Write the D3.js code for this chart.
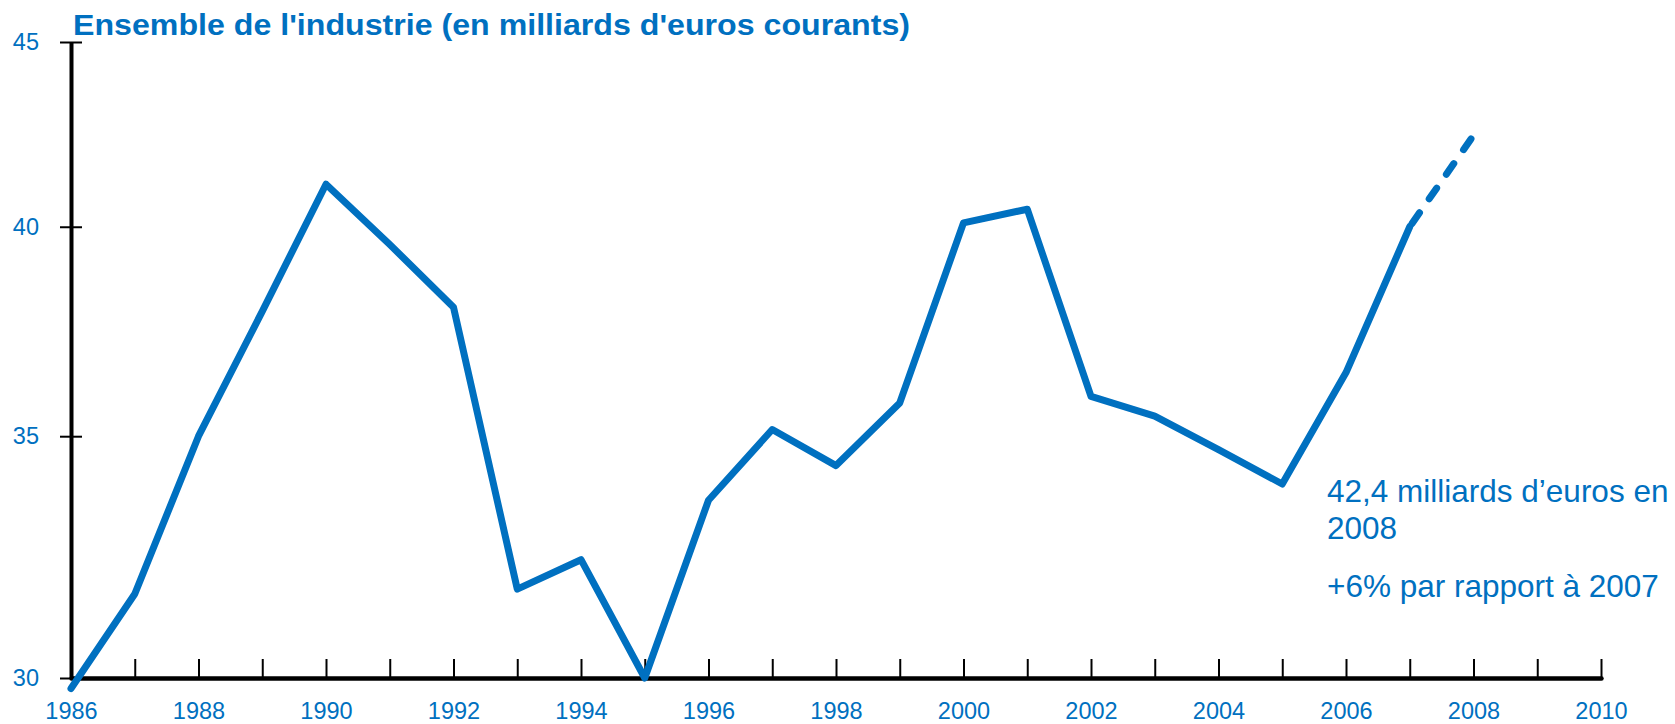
<!DOCTYPE html>
<html>
<head>
<meta charset="utf-8">
<script src="https://cdn.jsdelivr.net/npm/d3@7"></script>
<style>
    body { margin: 0; background: #fff; }
    text { font-family: "Liberation Sans", Arial, sans-serif; fill: #0070c0; }
</style>
</head>
<body>
<svg width="1675" height="724"></svg>
<script>
var years = [1986, 1987, 1988, 1989, 1990, 1991, 1992, 1993, 1994, 1995, 1996, 1997,
             1998, 1999, 2000, 2001, 2002, 2003, 2004, 2005, 2006, 2007, 2008];
var values = [29.8, 31.65, 35.0, 37.9, 41.1, 39.55, 38.0, 31.75, 32.35, 30.0, 33.6, 35.15,
              34.35, 35.75, 40.1, 40.45, 35.9, 35.45, 34.7, 33.95, 36.45, 40.0, 42.4];
var lastActual = 2007; // 2008 is drawn dashed
var yTicks = [30, 35, 40, 45];
var xLabelYears = d3.range(1986, 2011, 2);
var title = "Ensemble de l'industrie (en milliards d'euros courants)";
var note = ["42,4 milliards d\u2019euros en", "2008", "+6% par rapport \u00e0 2007"];

var blue = "#0070c0";
var svg = d3.select("svg");

var x = d3.scaleLinear().domain([1986, 2010]).range([71, 1601]);
var y = d3.scaleLog().domain([30, 45]).range([678, 42]);

var data = years.map(function(d, i) { return {year: d, value: values[i]}; });

// x axis: a tick every year, labels every two years
var xAxis = d3.axisBottom(x)
    .tickValues(d3.range(1987, 2011))
    .tickSizeInner(-19)
    .tickSizeOuter(0)
    .tickFormat("");
var gx = svg.append("g").attr("transform", "translate(0," + y(30) + ")").call(xAxis);
gx.select(".domain").attr("stroke", "#000").attr("stroke-width", 4.5).attr("stroke-linecap", "round");
gx.selectAll(".tick line").attr("stroke", "#000").attr("stroke-width", 2);

var xLab = d3.axisBottom(x)
    .tickValues(xLabelYears)
    .tickSize(0)
    .tickPadding(24)
    .tickFormat(d3.format("d"));
var gxl = svg.append("g").attr("transform", "translate(0," + y(30) + ")").call(xLab);
gxl.select(".domain").remove();
gxl.selectAll("text").attr("font-size", 23.5).attr("fill", blue).style("font-family", null);

// y axis, log scale
var yAxis = d3.axisLeft(y)
    .tickValues(yTicks)
    .tickSizeInner(11)
    .tickSizeOuter(0)
    .tickPadding(21)
    .tickFormat(d3.format("d"));
var gy = svg.append("g").attr("transform", "translate(" + x(1986) + ",0)").call(yAxis);
gy.select(".domain").attr("stroke", "#000").attr("stroke-width", 4);
gy.selectAll(".tick line").attr("x1", -11).attr("x2", 11).attr("stroke", "#000").attr("stroke-width", 2);
gy.selectAll("text").attr("font-size", 23.5).attr("fill", blue).style("font-family", null);

// series
var line = d3.line()
    .x(function(d) { return x(d.year); })
    .y(function(d) { return y(d.value); });

svg.append("path")
    .datum(data.filter(function(d) { return d.year <= lastActual; }))
    .attr("d", line)
    .attr("fill", "none")
    .attr("stroke", blue)
    .attr("stroke-width", 7)
    .attr("stroke-linejoin", "round")
    .attr("stroke-linecap", "round");

svg.append("path")
    .datum(data.filter(function(d) { return d.year >= lastActual; }))
    .attr("d", line)
    .attr("fill", "none")
    .attr("stroke", blue)
    .attr("stroke-width", 7)
    .attr("stroke-dasharray", "13,17")
    .attr("stroke-dashoffset", 26)
    .attr("stroke-linecap", "round");

// title
svg.append("text")
    .attr("x", 73)
    .attr("y", 34.5)
    .attr("font-size", 30)
    .attr("font-weight", "bold")
    .attr("textLength", 837)
    .attr("lengthAdjust", "spacingAndGlyphs")
    .text(title);

// annotation
svg.selectAll(".note")
    .data(note)
    .enter().append("text")
    .attr("class", "note")
    .attr("x", 1327)
    .attr("y", function(d, i) { return [502, 539, 597][i]; })
    .attr("font-size", 31.5)
    .text(function(d) { return d; });
</script>
</body>
</html>
